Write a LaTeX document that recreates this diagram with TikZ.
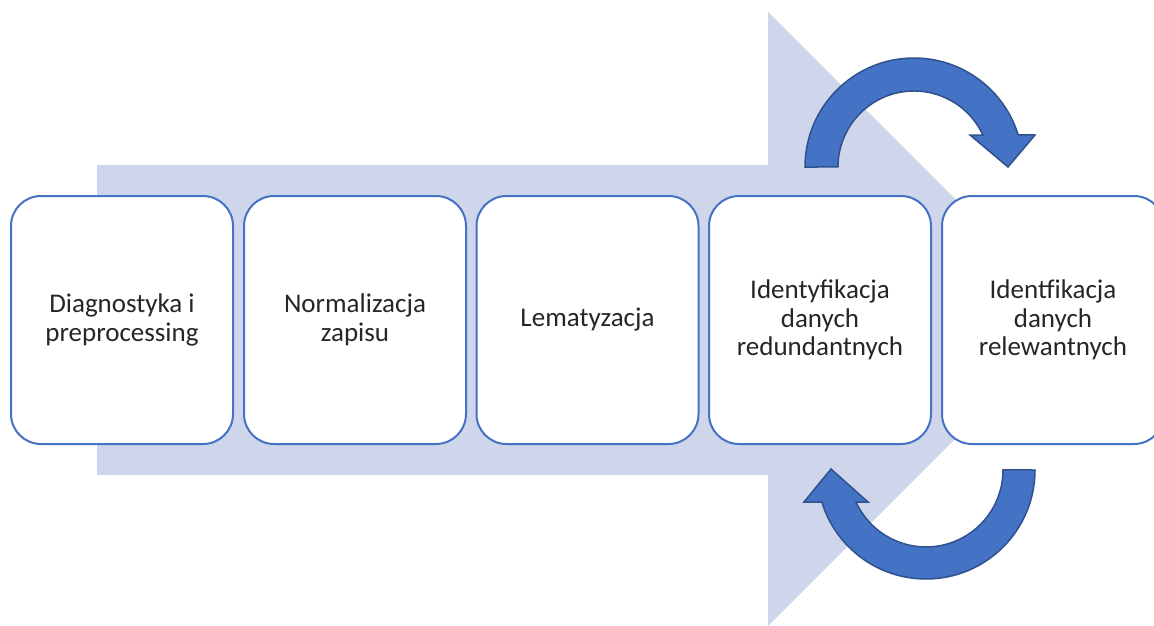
\documentclass[tikz,border=0pt]{standalone}
\usepackage{fontspec}
\setmainfont{Carlito}
\definecolor{bigarrow}{HTML}{CFD5EA}
\definecolor{boxline}{HTML}{4472C4}
\definecolor{cyclefill}{HTML}{4472C4}
\definecolor{cycleline}{HTML}{2F528F}
\definecolor{txt}{HTML}{262626}
\tikzset{
  stepbox/.style={rectangle, draw=boxline, line width=2pt, fill=white,
    rounded corners=30pt, minimum width=222pt, minimum height=248pt,
    align=center, text=txt, inner sep=0pt,
    font=\fontsize{27}{28.5}\selectfont},
  cyclearrow/.style={fill=cyclefill, draw=cycleline, line width=1.5pt, line join=miter}
}
\begin{document}
\begin{tikzpicture}[x=1pt,y=-1pt]
\useasboundingbox (0,0) rectangle (1154,626);
\clip (0,0) rectangle (1154,626);
% big background arrow
\fill[bigarrow] (97,165) -- (768,165) -- (768,12) -- (1075,319) -- (768,626) -- (768,475) -- (97,475) -- cycle;
% steps
\node[stepbox] (s1) at (122,320) {Diagnostyka i\\preprocessing};
\node[stepbox] (s2) at (355,320) {Normalizacja\\zapisu};
\node[stepbox] (s3) at (587.5,320) {Lematyzacja};
\node[stepbox] (s4) at (820,320) {Identyfikacja\\danych\\redundantnych};
\node[stepbox] (s5) at (1053,320) {Identfikacja\\danych\\relewantnych};
% top circular arrow
\coordinate (tstart) at (805,167);
\draw[cyclearrow] (tstart) arc[start angle=180, end angle=342.9, radius=109]
  -- (1035,135) -- (1008,167) -- (970,135) -- (982.9,135)
  arc[start angle=335.1, end angle=180, radius=76] -- cycle;
% bottom circular arrow
\coordinate (bstart) at (1035,470);
\draw[cyclearrow] (bstart) arc[start angle=0, end angle=162.9, radius=109]
  -- (804,502) -- (831,469) -- (868,502) -- (856,502)
  arc[start angle=155.4, end angle=0, radius=77] -- cycle;
\end{tikzpicture}
\end{document}
